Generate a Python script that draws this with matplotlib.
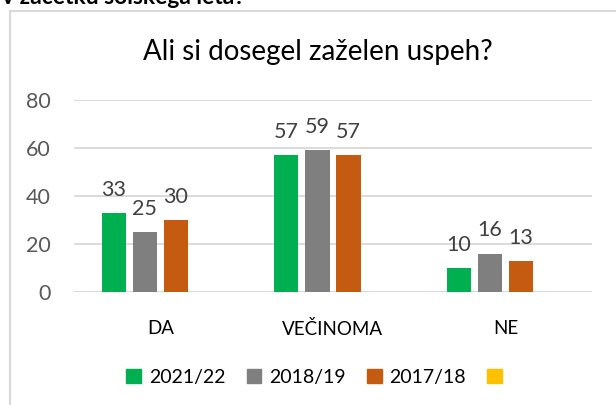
import numpy as np
import matplotlib
matplotlib.use("Agg")
import matplotlib.pyplot as plt
import matplotlib.patches as mpatches
from matplotlib.lines import Line2D

plt.rcParams['font.family'] = ['Lato', 'DejaVu Sans']

categories = ['DA', 'VEČINOMA', 'NE']
series = ['2021/22', '2018/19', '2017/18', '']
values = {
    '2021/22': [33, 57, 10],
    '2018/19': [25, 59, 16],
    '2017/18': [30, 57, 13],
}
colors = ['#00B050', '#7F7F7F', '#C55A11', '#FFC000']

W, H = 616, 405
fig = plt.figure(figsize=(W / 100, H / 100), dpi=100, facecolor='white')

# cropped heading above the chart box
fig.text(2 / W, 1 - 4.5 / H, 'v začetku šolskega leta?', fontsize=16.5,
         fontweight='bold', color='black', ha='left', va='baseline')

# chart box (left and top edges only visible)
fig.add_artist(Line2D([10 / W, 1], [1 - 11 / H, 1 - 11 / H], color='#D9D9D9',
                      lw=1.5, transform=fig.transFigure))
fig.add_artist(Line2D([10 / W, 10 / W], [0, 1 - 11 / H], color='#D9D9D9',
                      lw=1.5, transform=fig.transFigure))

ax = fig.add_axes([74 / W, 1 - 292 / H, (592 - 74) / W, (292 - 100) / H])
x = np.arange(len(categories))
slot = 0.18
bw = 0.14
for i, name in enumerate(series[:3]):
    bars = ax.bar(x + (i - 1.5) * slot, values[name], bw, color=colors[i], zorder=3)
    for b, v in zip(bars, values[name]):
        ax.text(b.get_x() + b.get_width() / 2, v + 5.5, str(v), ha='center',
                va='bottom', fontsize=15.5, color='#404040')

ax.set_xlim(-0.5, 2.5)
ax.set_ylim(0, 80)
ax.set_yticks([0, 20, 40, 60, 80])
ax.yaxis.grid(True, color='#D9D9D9', lw=1.3)
ax.set_axisbelow(True)
for s in ['top', 'right', 'left', 'bottom']:
    ax.spines[s].set_visible(False)
ax.axhline(0, color='#D9D9D9', lw=1.3, zorder=2)
ax.tick_params(axis='y', length=0, pad=16.5, labelsize=15.5, labelcolor='#595959')
ax.tick_params(axis='x', length=0, pad=20, labelsize=13.5, labelcolor='black')
ax.set_xticks(x)
ax.set_xticklabels(categories)

fig.text(318 / W, 1 - 52 / H, 'Ali si dosegel zaželen uspeh?', fontsize=20,
         color='black', ha='center', va='center')

handles = [mpatches.Patch(color=c, label=s) for c, s in zip(colors, series)]
fig.legend(handles=handles, loc='center', bbox_to_anchor=(318 / W, 1 - 377 / H),
           ncol=4, frameon=False, fontsize=14, handlelength=0.75,
           handleheight=0.75, handletextpad=0.4, columnspacing=1.1)

fig.savefig('out.png', dpi=100, facecolor='white')
